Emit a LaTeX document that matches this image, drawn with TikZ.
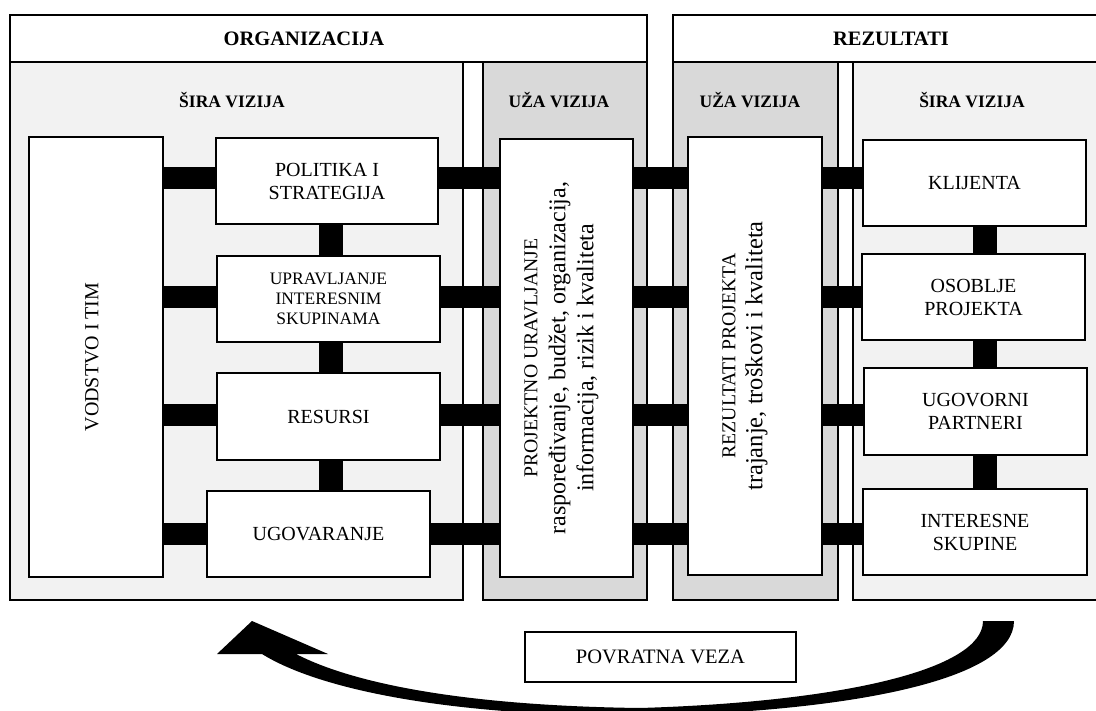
\documentclass[tikz,border=0pt]{standalone}
\usepackage{fontspec}
\setmainfont{Liberation Serif}
\pgfdeclarelayer{bg}
\pgfdeclarelayer{mid}
\pgfsetlayers{bg,mid,main}
\definecolor{siragray}{HTML}{F2F2F2}
\definecolor{uzagray}{HTML}{D9D9D9}
\tikzset{
  panel/.style={draw, line width=1.8pt, inner sep=0pt},
  hdr/.style={draw, fill=white, line width=1.8pt, inner sep=0pt},
  hdrtext/.style={font=\fontsize{20.5}{24}\selectfont\bfseries, inner sep=0pt},
  ptitle/.style={font=\fontsize{17.5}{20}\selectfont\bfseries, inner sep=0pt},
  box/.style={draw, fill=white, line width=1.8pt, inner sep=0pt, align=center, font=\fontsize{20}{23}\selectfont},
  smallbox/.style={box, font=\fontsize{17.5}{20}\selectfont},
  rotlabel/.style={rotate=90, align=center, inner sep=0pt},
  hbar/.style={line width=22pt, draw=black},
  vbar/.style={line width=24pt, draw=black},
}
\begin{document}
\begin{tikzpicture}[x=1pt,y=-1pt]
\useasboundingbox (0,0) rectangle (1096,711);

% panels
\begin{pgfonlayer}{bg}
\node[panel, fill=siragray, minimum width=453pt, minimum height=538pt] (sira1) at (236.5,331) {};
\node[panel, fill=uzagray, minimum width=164pt, minimum height=538pt] (uza1) at (565,331) {};
\node[panel, fill=uzagray, minimum width=165pt, minimum height=538pt] (uza2) at (755.5,331) {};
\node[panel, fill=siragray, minimum width=257pt, minimum height=538pt] (sira2) at (981.5,331) {};
\end{pgfonlayer}

% headers
\node[hdr, minimum width=637pt, minimum height=47pt] (org) at (328.5,38.5) {};
\node[hdrtext] (orgt) at (304,39) {ORGANIZACIJA};
\node[hdr, minimum width=437pt, minimum height=47pt] (rez) at (891.5,38.5) {};
\node[hdrtext] (rezt) at (891,39) {REZULTATI};

% panel titles
\node[ptitle] (t1) at (232,100) {ŠIRA VIZIJA};
\node[ptitle] (t2) at (559,100) {UŽA VIZIJA};
\node[ptitle] (t3) at (750,100) {UŽA VIZIJA};
\node[ptitle] (t4) at (972,100) {ŠIRA VIZIJA};

% boxes
\node[box, minimum width=134pt, minimum height=440pt] (vod) at (96,357) {};
\node[rotlabel, font=\fontsize{20}{23}\selectfont] (vodt) at ([xshift=-4pt]vod.center) {VODSTVO I TIM};

\node[box, minimum width=222pt, minimum height=86pt] (pol) at (327,181) {POLITIKA I\\STRATEGIJA};
\node[smallbox, minimum width=223pt, minimum height=86pt] (upr) at (328.5,299) {UPRAVLJANJE\\INTERESNIM\\SKUPINAMA};
\node[box, minimum width=223pt, minimum height=87pt] (res) at (328.5,416.5) {RESURSI};
\node[box, minimum width=223pt, minimum height=86pt] (ugo) at (318.5,534) {UGOVARANJE};

\node[box, minimum width=133pt, minimum height=438pt] (proj) at (566.5,358) {};
\node[rotlabel, font=\fontsize{24}{28}\selectfont] (projt) at ([xshift=-5pt]proj.center)
  {{\fontsize{19.7}{28}\selectfont PROJEKTNO URAVLJANJE}\\raspoređivanje, budžet, organizacija,\\informacija, rizik i kvaliteta};

\node[box, minimum width=134pt, minimum height=438pt] (rezp) at (755,356) {};
\node[rotlabel, font=\fontsize{24.5}{27}\selectfont] (rezpt) at ([xshift=-10pt]rezp.center)
  {{\fontsize{19.7}{27}\selectfont REZULTATI PROJEKTA}\\trajanje, troškovi i kvaliteta};

\node[box, minimum width=223pt, minimum height=86pt] (kli) at (974.5,183) {KLIJENTA};
\node[box, minimum width=223pt, minimum height=86pt] (oso) at (973.5,297) {OSOBLJE\\PROJEKTA};
\node[box, minimum width=223pt, minimum height=87pt] (ugp) at (975.5,411.5) {UGOVORNI\\PARTNERI};
\node[box, minimum width=224pt, minimum height=86pt] (int) at (975,532) {INTERESNE\\SKUPINE};

\node[box, font=\fontsize{20.5}{24}\selectfont, minimum width=271pt, minimum height=50pt] (pov) at (660.5,657) {POVRATNA VEZA};

% connector rows / columns
\coordinate (r1) at (0,178);
\coordinate (r2) at (0,297);
\coordinate (r3) at (0,415);
\coordinate (r4) at (0,534);
\coordinate (cl) at (330.5,0);
\coordinate (cr) at (985,0);

\begin{pgfonlayer}{mid}
\draw[hbar] (vod.east |- r1) -- (pol.west |- r1);
\draw[hbar] (pol.east |- r1) -- (proj.west |- r1);
\draw[hbar] (proj.east |- r1) -- (rezp.west |- r1);
\draw[hbar] (rezp.east |- r1) -- (kli.west |- r1);

\draw[hbar] (vod.east |- r2) -- (upr.west |- r2);
\draw[hbar] (upr.east |- r2) -- (proj.west |- r2);
\draw[hbar] (proj.east |- r2) -- (rezp.west |- r2);
\draw[hbar] (rezp.east |- r2) -- (oso.west |- r2);

\draw[hbar] (vod.east |- r3) -- (res.west |- r3);
\draw[hbar] (res.east |- r3) -- (proj.west |- r3);
\draw[hbar] (proj.east |- r3) -- (rezp.west |- r3);
\draw[hbar] (rezp.east |- r3) -- (ugp.west |- r3);

\draw[hbar] (vod.east |- r4) -- (ugo.west |- r4);
\draw[hbar] (ugo.east |- r4) -- (proj.west |- r4);
\draw[hbar] (proj.east |- r4) -- (rezp.west |- r4);
\draw[hbar] (rezp.east |- r4) -- (int.west |- r4);

\draw[vbar] (pol.south -| cl) -- (upr.north -| cl);
\draw[vbar] (upr.south -| cl) -- (res.north -| cl);
\draw[vbar] (res.south -| cl) -- (ugo.north -| cl);

\draw[vbar] (kli.south -| cr) -- (oso.north -| cr);
\draw[vbar] (oso.south -| cr) -- (ugp.north -| cr);
\draw[vbar] (ugp.south -| cr) -- (int.north -| cr);
\end{pgfonlayer}

% feedback arrow
\fill[black, line join=round] (1014,621) .. controls (1014,680) and (850,712) .. (640,716)
  .. controls (450,716) and (320,690) .. (262,654)
  -- (217,654) -- (252,621) -- (328,654) -- (296,654)
  .. controls (360,687) and (480,706) .. (640,708)
  .. controls (840,702) and (983,670) .. (983,621) -- cycle;
\end{tikzpicture}
\end{document}
